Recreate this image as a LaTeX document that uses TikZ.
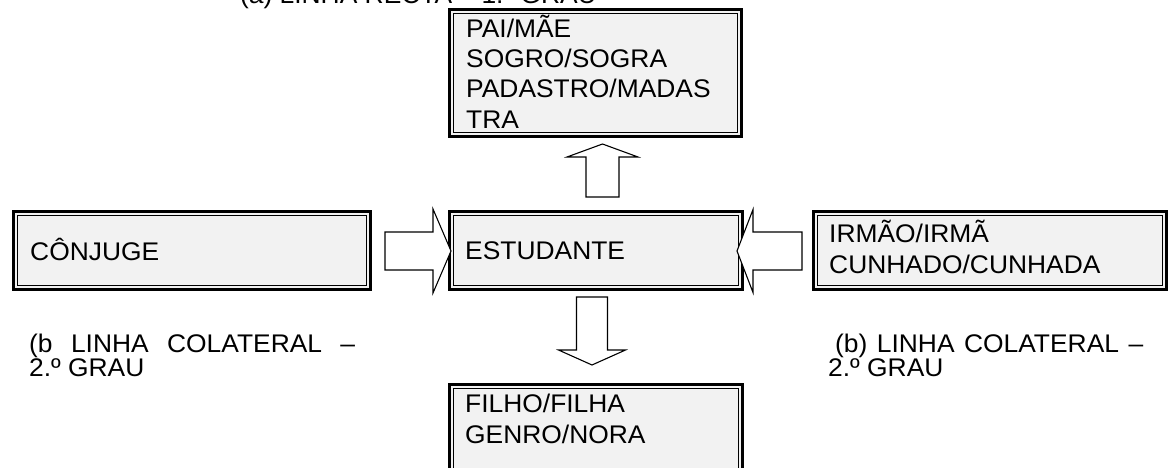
\documentclass[tikz,border=0pt]{standalone}
\usepackage{fontspec}
\setmainfont{Liberation Sans}[FakeStretch=1.035]
\usepackage{tikz}
\usetikzlibrary{calc}
\definecolor{boxgray}{HTML}{F2F2F2}
\newcommand{\diagfont}{\fontsize{25.5}{30.5}\selectfont}
\newcommand{\capfont}{\fontsize{25.5}{24}\selectfont}
\newcommand{\blockarrow}[6]{%
  \draw[bigarrow,shift={#1},rotate=#2] (0,-#5) -- ({#3-#4},-#5) -- ({#3-#4},-#6) -- (#3,0) -- ({#3-#4},#6) -- ({#3-#4},#5) -- (0,#5) -- cycle;}

\begin{document}
\begin{tikzpicture}[x=1pt,y=-1pt,
    frame/.style={draw,line width=3pt,fill=boxgray,inner sep=0pt,outer sep=0pt,anchor=north west},
    boxtext/.style={anchor=base west,inner sep=0pt,align=left,font=\diagfont},
    captext/.style={anchor=base west,inner sep=0pt,align=left,font=\capfont},
    bigarrow/.style={draw,line width=1.1pt,fill=white,line join=miter}]
  \useasboundingbox (0,0) rectangle (1168,468);
  \node[frame,minimum width=292pt,minimum height=127pt] (parents) at (449.5,9.5) {};
  \node[frame,minimum width=357pt,minimum height=78pt] (spouse) at (13.5,211.5) {};
  \node[frame,minimum width=293pt,minimum height=78pt] (student) at (449.5,211.5) {};
  \node[frame,minimum width=353pt,minimum height=78pt] (siblings) at (813.5,211.5) {};
  \node[frame,minimum width=293pt,minimum height=110pt] (children) at (449.5,384.5) {};
  \foreach \b in {parents,spouse,student,siblings,children}
    \draw[line width=1pt] ([shift={(3.6pt,-3.6pt)}]\b.north west) rectangle ([shift={(-3.6pt,3.6pt)}]\b.south east);

  \node[boxtext] (parentstext) at (466,128.5) {PAI/MÃE\\SOGRO/SOGRA\\PADASTRO/MADAS\\TRA};
  \node[boxtext] (spousetext) at (30,260) {CÔNJUGE};
  \node[boxtext] (studenttext) at (465,259) {ESTUDANTE};
  \node[boxtext] (siblingstext) at (829,273) {IRMÃO/IRMÃ\\CUNHADO/CUNHADA};
  \node[boxtext] (childrentext) at (465,443) {FILHO/FILHA\\GENRO/NORA};

  \coordinate (upfoot) at (602.5,197);
  \coordinate (downfoot) at (592,297);
  \coordinate (leftfoot) at (385,251);
  \coordinate (rightfoot) at (802,251);
  \blockarrow{(upfoot)}{90}{53}{13}{16.5}{35.5}
  \blockarrow{(downfoot)}{-90}{68}{15}{15.5}{33.5}
  \blockarrow{(leftfoot)}{0}{66}{18}{19}{42}
  \blockarrow{(rightfoot)}{180}{65}{16}{19}{41.5}

  \node[captext,anchor=base east] (topcap) at (597,3.5) {(a) LINHA RECTA – 1.º GRAU};
  \node[captext] (leftcap) at (29,376) {\makebox[326pt][s]{(b LINHA COLATERAL –}\\2.º GRAU};
  \node[captext] (rightcap) at (828,376) {\hspace*{7pt}\makebox[308pt][s]{(b) LINHA COLATERAL –}\\2.º GRAU};
\end{tikzpicture}
\end{document}
